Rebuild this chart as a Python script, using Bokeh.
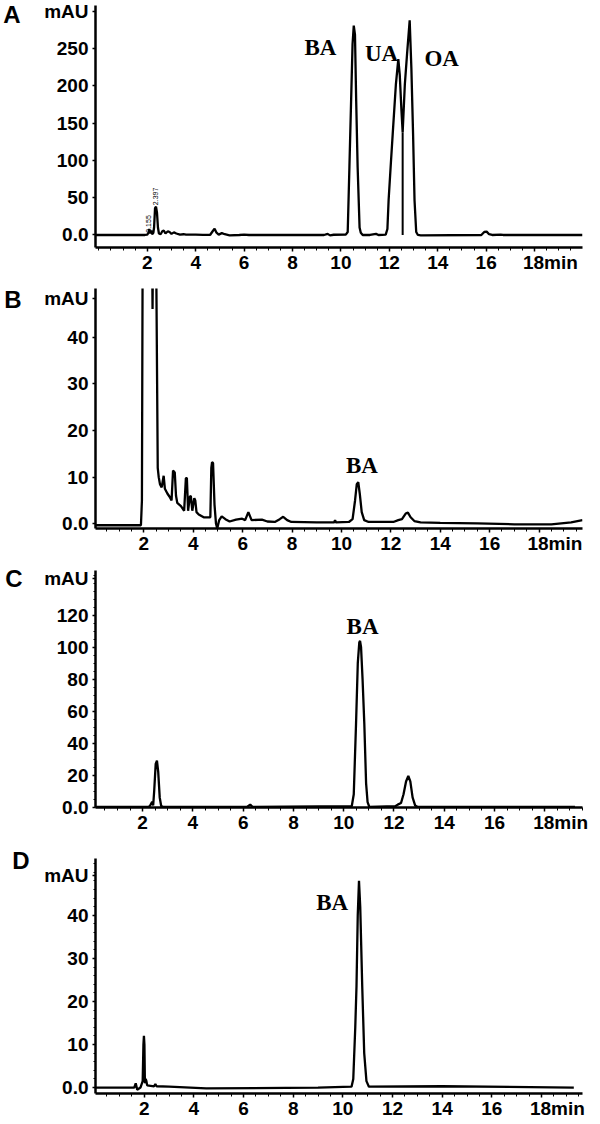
import math
from bokeh.plotting import figure
from bokeh.layouts import column
from bokeh.models import Label, FixedTicker, Range1d, LinearAxis
from bokeh.embed import file_html
from bokeh.resources import INLINE

# ---------------- data ----------------
x_ticks = [2, 4, 6, 8, 10, 12, 14, 16, 18]
x_tick_labels = {18: "\u00a0" * 6 + "18min"}
x_minor_ticks = [0.5 * i for i in range(0, 41)]

# Panel A: standard mixture (BA, UA, OA)
a_time = [-0.14, 1.9, 2.0, 2.05, 2.08, 2.12, 2.16, 2.2, 2.25, 2.28, 2.32, 2.36, 2.40, 2.44, 2.48,
          2.55, 2.62, 2.68, 2.75, 2.85, 2.92, 3.0, 3.1, 3.2, 3.35, 3.5, 3.6, 4.0, 4.3, 4.6, 4.7,
          4.78, 4.86, 4.95, 5.08, 5.2, 5.4, 5.8, 6.0, 6.2, 9.3, 9.45, 9.55, 9.7, 10.2, 10.28,
          10.35, 10.42, 10.48, 10.53, 10.58, 10.63, 10.69, 10.77, 10.82, 10.9, 11.2, 11.45,
          11.55, 11.85, 11.92, 11.97, 12.06, 12.14, 12.27, 12.37, 12.43, 12.50, 12.55, 12.64,
          12.73, 12.84, 12.91, 12.98, 13.04, 13.11, 13.18, 13.3, 15.8, 15.92, 16.02, 16.12,
          16.25, 16.6, 16.7, 19.98]
a_mau = [0, 0, 0.5, 3, 8, 2, 6, 1, 3, 10, 36, 38, 30, 10, 2,
         1, 5, 6, 2, 5, 4, 1.5, 3.5, 2, 0.5, 1, 0.5, 0.5, 0.2, 0.3, 5,
         8.5, 3, 0.5, 2.5, 1, -0.5, 0, 0.5, 0, 0, 1.5, -0.5, 0.3, 0.5, 4,
         91, 180, 256, 281, 269, 180, 91, 10, 3, 0, 0, 1.5,
         0, 0.5, 8, 47, 95, 136, 202, 236, 215, 167, 138, 202,
         242, 288, 224, 136, 47, 4, 0, -0.5, 0, 4, 4.5, 1,
         0, 0.5, 0, 0]
a_drop_time = [12.55, 12.55]
a_drop_mau = [0, 138]
a_y_ticks = [0, 50, 100, 150, 200, 250]
a_rt_labels = ["2.155", "2.397"]
a_rt_time = [2.07, 2.34]
a_rt_mau = [3, 40]
a_peak_names = ["BA", "UA", "OA"]
a_peak_time = [9.15, 11.68, 14.16]
a_peak_mau = [251.7, 243.6, 236.9]

# Panel B: sample extract
b_time = [0.04, 1.88, 1.92, 1.95, 2.0, 2.2, 2.33, 2.35, 2.37, 2.40, 2.50, 2.56, 2.60, 2.65,
          2.72, 2.80, 2.85, 2.95, 3.04, 3.12, 3.18, 3.25, 3.30, 3.35, 3.5, 3.63, 3.70, 3.74,
          3.79, 3.86, 3.90, 3.96, 4.04, 4.08, 4.13, 4.22, 4.42, 4.69, 4.73, 4.76, 4.80, 4.86,
          4.92, 4.97, 5.05, 5.15, 5.3, 5.47, 5.73, 5.98, 6.1, 6.23, 6.36, 6.78, 7.0, 7.3, 7.5,
          7.64, 7.8, 7.97, 9.0, 9.7, 9.74, 9.78, 10.3, 10.45, 10.55, 10.62, 10.68, 10.74,
          10.82, 10.92, 11.1, 12.1, 12.3, 12.45, 12.6, 12.69, 12.8, 12.95, 13.2, 14.0, 15.5,
          17.0, 18.5, 19.3, 19.76]
b_mau = [-0.3, -0.3, 5, 60, 80, 100, 60, 46, 60, 80, 55, 12, 10, 8.5,
         7.8, 10.3, 7.5, 6.5, 5.8, 5, 11.4, 11, 6, 4.5, 3.8, 2.8, 9.8, 9.8,
         2.8, 5.8, 6, 2.8, 5.5, 5, 2.5, 2, 1.4, 1.4, 12, 13.2, 13, 4,
         0, -1, 0.8, 1.6, 1.0, 0.5, 0.9, 1.1, 0.8, 2.5, 0.8, 0.9, 0.5, 0.4, 1.0,
         1.5, 0.8, 0.4, 0.3, 0.3, 0.8, 0.3, 0.4, 1.0, 5, 8.5, 8.9, 6.5,
         2.5, 0.8, 0.4, 0.4, 0.8, 1.0, 2.2, 2.4, 1.4, 0.6, 0.3, 0.2, 0.1,
         -0.1, -0.1, 0.3, 0.8]
b_y_ticks = [0, 10, 20, 30, 40]
b_peak_names = ["BA"]
b_peak_time = [10.83]
b_peak_mau = [12.5]

# Panel C
c_time = [0.13, 2.25, 2.32, 2.38, 2.42, 2.46, 2.52, 2.57, 2.62, 2.68, 2.74, 2.85, 6.15, 6.28,
          6.38, 10.32, 10.40, 10.49, 10.56, 10.62, 10.65, 10.69, 10.75, 10.82, 10.89, 10.95,
          11.02, 12.05, 12.15, 12.28, 12.38, 12.48, 12.57, 12.65, 12.74, 12.84, 12.95, 19.2]
c_mau = [0, 0, 1.5, 3.3, 1, 10, 27, 29, 22, 6, 0.5, 0, 0, 1.5,
         0, 0.5, 8, 52, 90, 103, 104, 100, 80, 52, 15, 3,
         0, 0.5, 1.5, 2.5, 8, 16, 19.4, 16, 6, 1, 0, 0]
c_y_ticks = [0, 20, 40, 60, 80, 100, 120]
c_y_minor = [5 * i for i in range(0, 30)]
c_peak_names = ["BA"]
c_peak_time = [10.75]
c_peak_mau = [113]

# Panel D
d_time = [0.04, 1.6, 1.66, 1.72, 1.85, 1.94, 1.97, 1.99, 2.01, 2.03, 2.06, 2.09, 2.12, 2.40,
          2.45, 2.5, 3.0, 4.5, 9.0, 10.35, 10.42, 10.5, 10.55, 10.60, 10.65, 10.70, 10.78,
          10.86, 10.95, 11.05, 14.0, 19.3]
d_mau = [0, 0, 1, -0.5, 0, 1.5, 10, 12, 10, 1, 2, 1.5, 0.5, 0.3,
         0.8, 0.3, 0.2, -0.2, 0, 0.2, 2, 14, 23.6, 40, 48, 42, 23.6,
         8, 1.5, 0.2, 0.3, 0]
d_y_ticks = [0, 10, 20, 30, 40]
d_y_minor = [2 * i for i in range(0, 27)]
d_peak_names = ["BA"]
d_peak_time = [9.57]
d_peak_mau = [42.9]

# ---------------- styling ----------------
SANS = "Liberation Sans"
SERIF = "Liberation Serif"
TICK_FS = "19px"
W = 598


def make_panel(letter, height, borders, xr, yr, y_ticks, y_minor, times, vals,
               peak_names, peak_time, peak_mau, letter_v, mau_v, letter_standoff):
    bt, bb, bl, br = borders
    p = figure(width=W, height=height, output_backend="svg", toolbar_location=None,
               x_range=Range1d(*xr), y_range=Range1d(*yr),
               min_border_top=bt, min_border_bottom=bb, min_border_left=bl,
               min_border_right=br)
    p.outline_line_color = None
    p.xgrid.visible = False
    p.ygrid.visible = False
    p.background_fill_color = "white"
    p.border_fill_color = "white"

    p.xaxis.ticker = FixedTicker(ticks=x_ticks, minor_ticks=x_minor_ticks)
    p.xaxis.major_label_overrides = x_tick_labels
    p.yaxis.ticker = FixedTicker(ticks=y_ticks + [mau_v], minor_ticks=y_minor)
    p.yaxis.major_label_overrides = {0: "0.0", mau_v: "mAU"}
    for ax in (p.xaxis, p.yaxis):
        ax.axis_line_width = 2.5
        ax.axis_line_color = "black"
        ax.major_tick_line_color = "black"
        ax.major_tick_line_width = 1.5
        ax.minor_tick_line_color = "black"
        ax.minor_tick_line_width = 1
        ax.major_label_text_font = SANS
        ax.major_label_text_font_style = "bold"
        ax.major_label_text_font_size = TICK_FS
        ax.major_label_text_color = "black"
        ax.major_tick_in = 0
        ax.minor_tick_in = 0
    p.xaxis.major_tick_out = 4
    p.xaxis.minor_tick_out = 3
    p.xaxis.major_label_standoff = 0
    p.yaxis.major_tick_out = 3
    p.yaxis.minor_tick_out = 2
    p.yaxis.major_label_standoff = 4

    # panel letter drawn as an outer left axis label
    lax = LinearAxis(ticker=FixedTicker(ticks=[letter_v], minor_ticks=[]),
                     major_label_overrides={letter_v: letter},
                     axis_line_color=None, major_tick_line_color=None,
                     minor_tick_line_color=None, major_tick_out=0, minor_tick_out=0,
                     major_tick_in=0, minor_tick_in=0,
                     major_label_standoff=letter_standoff,
                     major_label_text_font=SANS, major_label_text_font_style="bold",
                     major_label_text_font_size="24px", major_label_text_color="black")
    p.add_layout(lax, "left")

    p.line(times, vals, line_color="black", line_width=2.3)

    for name, t, v in zip(peak_names, peak_time, peak_mau):
        p.add_layout(Label(x=t, y=v, text=name, text_font=SERIF, text_font_style="bold",
                           text_font_size="23px", text_align="center",
                           text_baseline="alphabetic", text_color="black"))
    return p


pa = make_panel("A", 280, (5, 33, 92, W - 590), (-0.14, 19.98), (-16.8, 308), a_y_ticks, [],
                a_time, a_mau, a_peak_names, a_peak_time, a_peak_mau, 297.3, 299.3, 21)
pa.line(a_drop_time, a_drop_mau, line_color="black", line_width=2)
for txt, t, v in zip(a_rt_labels, a_rt_time, a_rt_mau):
    pa.add_layout(Label(x=t, y=v, text=txt, angle=math.pi / 2, text_font=SANS,
                        text_font_size="7px", text_align="left", text_baseline="middle",
                        text_color="black"))

pb = make_panel("B", 282, (8, 34, 92, W - 593), (0.04, 19.76), (-1.0, 50.4), b_y_ticks, [],
                b_time, b_mau, b_peak_names, b_peak_time, b_peak_mau, 48.0, 48.35, 20)

pc = make_panel("C", 280, (8, 35, 89, W - 585), (0.125, 19.5), (-0.3, 148), c_y_ticks, c_y_minor,
                c_time, c_mau, c_peak_names, c_peak_time, c_peak_mau, 142.7, 142.7, 19)

pd = make_panel("D", 279, (16, 26, 82, W - 582), (0.04, 19.65), (-1.38, 53.2), d_y_ticks, d_y_minor,
                d_time, d_mau, d_peak_names, d_peak_time, d_peak_mau, 52.65, 49.2, 12)

layout = column(pa, pb, pc, pd, spacing=0)
open("out.html", "w").write(file_html(layout, INLINE))
